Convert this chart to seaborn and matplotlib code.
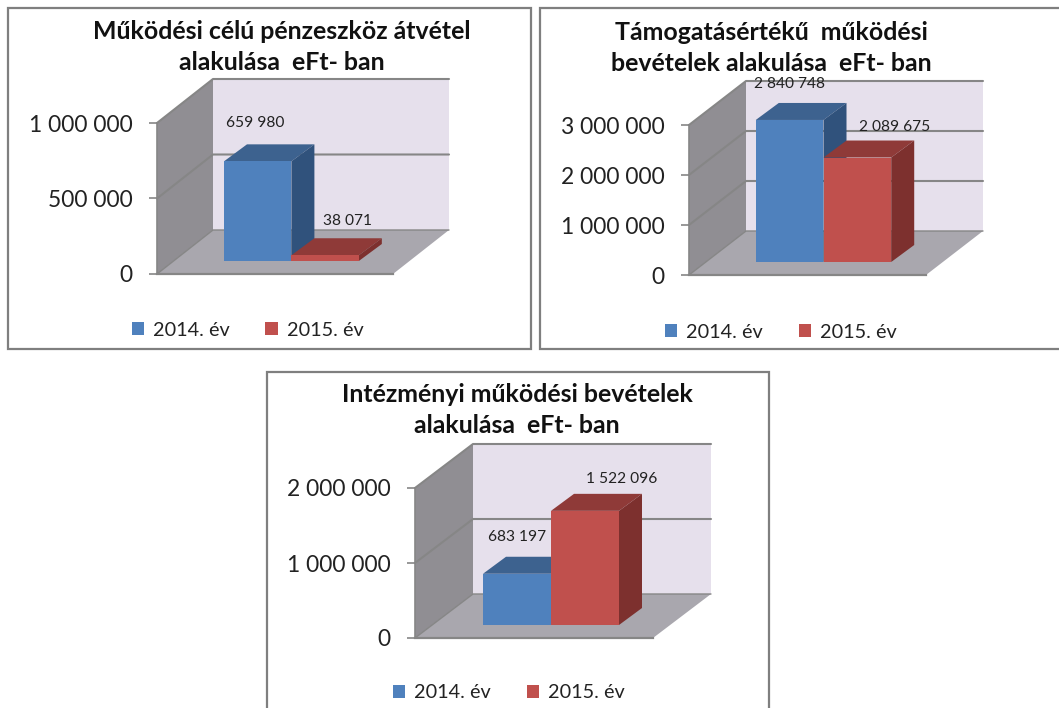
import pandas as pd
import seaborn as sns
import matplotlib as mpl
mpl.use('Agg')
import matplotlib.pyplot as plt
from matplotlib.patches import Polygon, Rectangle

years = ['2014. év', '2015. év']

title_1 = 'Működési célú pénzeszköz átvétel\nalakulása  eFt- ban'
values_1 = [659980, 38071]
value_labels_1 = ['659 980', '38 071']
ticks_1 = [0, 500000, 1000000]
tick_labels_1 = ['0', '500 000', '1 000 000']

title_2 = 'Támogatásértékű  működési\nbevételek alakulása  eFt- ban'
values_2 = [2840748, 2089675]
value_labels_2 = ['2 840 748', '2 089 675']
ticks_2 = [0, 1000000, 2000000, 3000000]
tick_labels_2 = ['0', '1 000 000', '2 000 000', '3 000 000']

title_3 = 'Intézményi működési bevételek\nalakulása  eFt- ban'
values_3 = [683197, 1522096]
value_labels_3 = ['683 197', '1 522 096']
ticks_3 = [0, 1000000, 2000000]
tick_labels_3 = ['0', '1 000 000', '2 000 000']

W, H = 1059, 708
FONT = ['Lato', 'DejaVu Sans']

# bar colours: front, top, side
BLUE = ['#4F81BD', '#3D628F', '#30527C']
RED = ['#C0504D', '#8F3A38', '#7D302E']
WALL = '#E6E0EC'
SIDE_WALL = '#908E93'
FLOOR = '#A9A7AE'
GRID = '#868686'

sns.set_theme(style='white')
plt.rcParams['font.family'] = FONT
fig = plt.figure(figsize=(W / 100, H / 100), dpi=100)


def fx(x):
    return x / W


def fy(y):
    return 1 - y / H


def drawPanel(p):
    # keret
    fig.add_artist(Rectangle((fx(p['frame'][0]), fy(p['frame'][3])),
                             (p['frame'][2] - p['frame'][0]) / W,
                             (p['frame'][3] - p['frame'][1]) / H,
                             transform=fig.transFigure, facecolor='white',
                             edgecolor='#7F7F7F', linewidth=1.6, zorder=-1))
    fig.text(fx(p['title_x']), fy(p['title_y']), p['title'], ha='center', va='center',
             fontsize=17.9, fontweight='bold', color='#111111', linespacing=1.4)

    x0, y0, ytop, fw = p['x0'], p['y0'], p['ytop'], p['floor_w']
    rect = [fx(x0), fy(y0), fw / W, (y0 - ytop) / H]
    ymax = p['ticks'][-1]
    xlim = (-1.25, 2.25)
    ux = fw / (xlim[1] - xlim[0])   # pixel / x egyseg
    uy = (y0 - ytop) / ymax         # pixel / y egyseg
    dx, dy = p['depth'] / ux, 44 / uy

    # falak es padlo
    ax = fig.add_axes(rect)
    ax.patch.set_alpha(0)
    ax.set_xlim(xlim)
    ax.set_ylim(0, ymax)
    l, r = xlim
    ax.add_patch(Polygon([(l + dx, dy), (r + dx, dy), (r + dx, ymax + dy), (l + dx, ymax + dy)],
                         facecolor=WALL, edgecolor='none', clip_on=False))
    ax.add_patch(Polygon([(l, 0), (l + dx, dy), (l + dx, ymax + dy), (l, ymax)],
                         facecolor=SIDE_WALL, edgecolor='none', clip_on=False))
    ax.add_patch(Polygon([(l, 0), (r, 0), (r + dx, dy), (l + dx, dy)],
                         facecolor=FLOOR, edgecolor='none', clip_on=False))
    for t in p['ticks']:
        if t > 0:
            ax.plot([l, l + dx, r + dx], [t, t + dy, t + dy], color=GRID, lw=1.5, clip_on=False)
    ax.plot([l, l + dx, r + dx], [0, dy, dy], color=GRID, lw=1.0, clip_on=False)
    ax.set_yticks(p['ticks'])
    ax.set_yticklabels(p['tick_labels'], fontsize=16.4, color='#222222')
    ax.set_xticks([])
    ax.tick_params(axis='y', left=True, length=5.5, width=1.2, color=GRID, pad=12)
    sns.despine(ax=ax, top=True, right=True)
    ax.spines['left'].set_color(GRID)
    ax.spines['left'].set_linewidth(1.2)
    ax.spines['bottom'].set_color(GRID)
    ax.spines['bottom'].set_linewidth(1.6)
    ax.set_xlabel('')
    ax.set_ylabel('')

    # oszlopok, a padlora tolva
    bar_ax = fig.add_axes([rect[0] + p['bar_shift'] / W, rect[1] + 13 / H, rect[2], rect[3]])
    bar_ax.patch.set_alpha(0)
    df = pd.DataFrame({'year': years, 'value': p['values']})
    sns.barplot(data=df, x='year', y='value', hue='year', palette=[BLUE[0], RED[0]],
                width=1, dodge=False, saturation=1, linewidth=0, ax=bar_ax, legend=True)
    bar_ax.set_xlim(xlim)
    bar_ax.set_ylim(0, ymax)
    bar_ax.axis('off')

    bdx, bdy = 23 / ux, 17 / uy
    for i, cont in enumerate(bar_ax.containers):
        bar = cont[0]
        cols = [BLUE, RED][i]
        a, b, h = bar.get_x(), bar.get_x() + bar.get_width(), bar.get_height()
        z = 2 + i
        bar.set_zorder(z)
        bar_ax.add_patch(Polygon([(a, h), (b, h), (b + bdx, h + bdy), (a + bdx, h + bdy)],
                                 facecolor=cols[1], edgecolor='none', zorder=z - 0.5, clip_on=False))
        bar_ax.add_patch(Polygon([(b, 0), (b + bdx, bdy), (b + bdx, h + bdy), (b, h)],
                                 facecolor=cols[2], edgecolor='none', zorder=z - 0.5, clip_on=False))
        off = p['label_off'][i]
        bar_ax.annotate(p['value_labels'][i], ((a + b) / 2, h), xytext=off,
                        textcoords='offset pixels', ha='center', va='center',
                        fontsize=11.2, color='#222222', zorder=10, annotation_clip=False)

    handles, labels = bar_ax.get_legend_handles_labels()
    bar_ax.get_legend().remove()
    fig.legend(handles, labels, loc='center', ncol=2, frameon=False,
               bbox_to_anchor=(fx(p['leg_x']), fy(p['leg_y'])), fontsize=14.3,
               handlelength=0.62, handleheight=0.62, handletextpad=0.45, columnspacing=1.8,
               labelcolor='#222222')


panels = [
    dict(frame=(8, 8, 531, 349), title=title_1, title_x=282, title_y=47,
         values=values_1, value_labels=value_labels_1, ticks=ticks_1, tick_labels=tick_labels_1,
         x0=157, y0=274, ytop=123, floor_w=236, depth=56, bar_shift=16.4,
         label_off=[(-2, 38), (22, 34)], leg_x=247.5, leg_y=330),
    dict(frame=(540, 8, 1080, 349), title=title_2, title_x=771, title_y=48,
         values=values_2, value_labels=value_labels_2, ticks=ticks_2, tick_labels=tick_labels_2,
         x0=689, y0=275, ytop=125, floor_w=237, depth=57, bar_shift=16,
         label_off=[(0, 36), (37, 31)], leg_x=781, leg_y=332),
    dict(frame=(267, 372, 769, 760), title=title_3, title_x=517, title_y=410,
         values=values_3, value_labels=value_labels_3, ticks=ticks_3, tick_labels=tick_labels_3,
         x0=415, y0=638, ytop=488, floor_w=238, depth=58, bar_shift=17,
         label_off=[(0, 37), (37, 32)], leg_x=509, leg_y=693),
]

for p in panels:
    drawPanel(p)

plt.savefig('out.png', dpi=100)
